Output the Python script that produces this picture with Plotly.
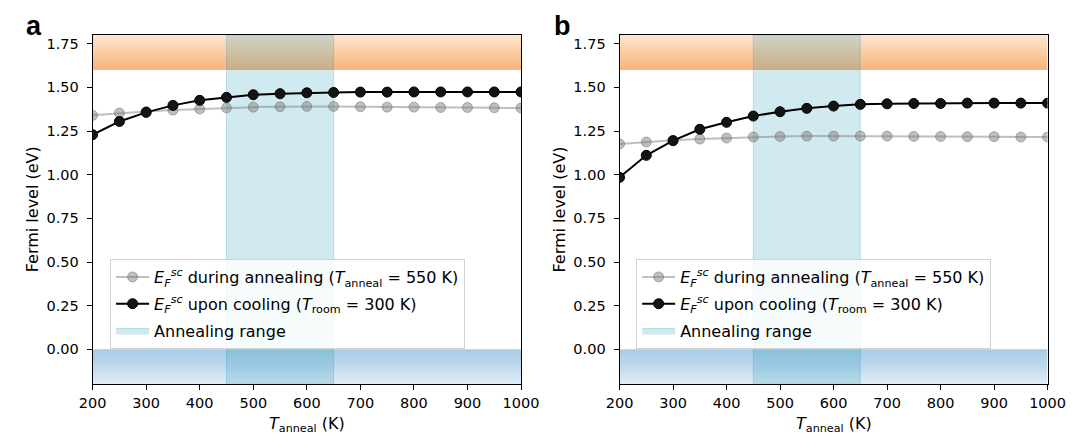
import plotly.graph_objects as go

# Annealing temperatures (K)
temps = [200, 250, 300, 350, 400, 450, 500, 550, 600, 650, 700, 750, 800, 850, 900, 950, 1000]

# Panel a: self-consistent Fermi level (eV)
a_anneal = [1.340, 1.353, 1.362, 1.370, 1.376, 1.383, 1.387, 1.389, 1.391, 1.391,
            1.389, 1.387, 1.387, 1.385, 1.385, 1.383, 1.382]
a_cool = [1.229, 1.305, 1.357, 1.397, 1.426, 1.443, 1.458, 1.464, 1.469, 1.471,
          1.473, 1.473, 1.474, 1.474, 1.474, 1.474, 1.474]

# Panel b: self-consistent Fermi level (eV)
b_anneal = [1.176, 1.187, 1.197, 1.204, 1.210, 1.216, 1.219, 1.221, 1.221, 1.221,
            1.221, 1.219, 1.219, 1.218, 1.218, 1.216, 1.216]
b_cool = [0.985, 1.111, 1.195, 1.260, 1.300, 1.336, 1.361, 1.380, 1.393, 1.403,
          1.406, 1.408, 1.408, 1.410, 1.410, 1.410, 1.410]

# Band edges shown as shaded regions (eV) and annealing window (K)
cb_region = [1.6, 1.8]
vb_region = [-0.2, 0.0]
anneal_window = [450, 650]
x_limits = [200, 1000]
y_ticks = [0.0, 0.25, 0.5, 0.75, 1.0, 1.25, 1.5, 1.75]

FONT = "DejaVu Sans"
FS = 16
TICK_FS = 14.5
anneal_name = ("<i>E</i><sub><i>F</i></sub><sup><i>sc</i></sup> during annealing "
               "(<i>T</i><sub>anneal</sub> = 550 K)")
cool_name = ("<i>E</i><sub><i>F</i></sub><sup><i>sc</i></sup> upon cooling "
             "(<i>T</i><sub>room</sub> = 300 K)")

fig = go.Figure()


def add_panel(xa, ya, legend, anneal, cool):
    x0, x1 = x_limits
    # conduction band region (orange gradient)
    fig.add_trace(go.Scatter(
        x=[x0, x1, x1, x0, x0], y=[cb_region[0], cb_region[0], cb_region[1], cb_region[1], cb_region[0]],
        xaxis=xa, yaxis=ya, mode="lines", line=dict(width=0), fill="toself",
        fillgradient=dict(type="vertical",
                          colorscale=[[0, "rgb(249,180,122)"], [1, "rgb(252,230,206)"]]),
        showlegend=False, hoverinfo="skip"))
    # valence band region (blue gradient)
    fig.add_trace(go.Scatter(
        x=[x0, x1, x1, x0, x0], y=[vb_region[0], vb_region[0], vb_region[1], vb_region[1], vb_region[0]],
        xaxis=xa, yaxis=ya, mode="lines", line=dict(width=0), fill="toself",
        fillgradient=dict(type="vertical",
                          colorscale=[[0, "rgb(227,237,247)"], [0.6, "rgb(186,214,236)"],
                                      [1, "rgb(168,204,230)"]]),
        showlegend=False, hoverinfo="skip"))
    # annealing window
    w0, w1 = anneal_window
    fig.add_trace(go.Scatter(
        x=[w0, w1, w1, w0, w0], y=[-0.2, -0.2, 1.8, 1.8, -0.2],
        xaxis=xa, yaxis=ya, mode="lines", fill="toself",
        fillcolor="rgba(0,140,172,0.18)", line=dict(color="rgba(0,140,172,0.22)", width=1),
        name="Annealing range", legend=legend, legendgroup=legend + "c", legendrank=3,
        hoverinfo="skip"))
    fig.add_trace(go.Scatter(
        x=temps, y=anneal, xaxis=xa, yaxis=ya, mode="lines+markers",
        line=dict(color="rgba(128,128,128,0.5)", width=2),
        marker=dict(size=10, color="rgba(128,128,128,0.5)",
                    line=dict(color="rgba(110,110,110,0.5)", width=1)),
        name=anneal_name, legend=legend, legendgroup=legend + "a", legendrank=1))
    fig.add_trace(go.Scatter(
        x=temps, y=cool, xaxis=xa, yaxis=ya, mode="lines+markers",
        line=dict(color="black", width=2),
        marker=dict(size=10, color="rgb(20,20,20)", line=dict(color="black", width=1)),
        name=cool_name, legend=legend, legendgroup=legend + "b", legendrank=2))


add_panel("x", "y", "legend", a_anneal, a_cool)
add_panel("x2", "y2", "legend2", b_anneal, b_cool)

W, H = 1088, 438
dom_y = [1 - 384.3 / H, 1 - 35.0 / H]
dom_a = [81.0 / W, 522.4 / W]
dom_b = [623.9 / W, 1064.9 / W]

axis_common = dict(showline=True, mirror=True, linecolor="black", linewidth=1,
                   ticks="outside", ticklen=5, tickwidth=1, tickcolor="black",
                   showgrid=False, zeroline=False,
                   tickfont=dict(family=FONT, size=TICK_FS, color="black"))
xcommon = dict(axis_common, range=x_limits, tickmode="array",
               tickvals=list(range(200, 1001, 100)))
ycommon = dict(axis_common, range=[-0.2, 1.8], tickmode="array", tickvals=y_ticks,
               ticktext=[f"{v:.2f}" for v in y_ticks], ticklabelstandoff=5)

legend_common = dict(font=dict(family=FONT, size=FS, color="black"),
                     bgcolor="rgba(255,255,255,0.8)", bordercolor="rgb(210,210,210)",
                     borderwidth=1, xanchor="left", yanchor="top",
                     tracegroupgap=3, itemwidth=33, traceorder="grouped")

fig.update_layout(
    width=W, height=H, margin=dict(l=0, r=0, t=0, b=0),
    paper_bgcolor="white", plot_bgcolor="white",
    font=dict(family=FONT, size=FS, color="black"),
    xaxis=dict(xcommon, domain=dom_a, anchor="y"),
    yaxis=dict(ycommon, domain=dom_y, anchor="x"),
    xaxis2=dict(xcommon, domain=dom_b, anchor="y2"),
    yaxis2=dict(ycommon, domain=dom_y, anchor="x2"),
    legend=dict(legend_common, x=99 / W, y=1 - 259 / H),
    legend2=dict(legend_common, x=641 / W, y=1 - 259 / H),
)

# axis titles and panel letters
ann = []
for d, letter, letter_x in ((dom_a, "a", 10), (dom_b, "b", 554)):
    ann.append(dict(text="<i>T</i><sub>anneal</sub> (K)", xref="paper", yref="paper",
                    x=(d[0] + d[1]) / 2, y=1 - 424 / H, xanchor="center", yanchor="middle",
                    showarrow=False, font=dict(family=FONT, size=FS, color="black")))
    ann.append(dict(text="<b>" + letter + "</b>", xref="paper",
                    yref="paper", x=letter_x / W, y=1 - 26 / H, xanchor="left",
                    yanchor="middle", showarrow=False,
                    font=dict(family="Liberation Sans", size=27, color="black")))
for yx in (18.8, 562):
    ann.append(dict(text="Fermi level (eV)", xref="paper", yref="paper", x=yx / W,
                    y=1 - 209 / H, textangle=-90, xanchor="center", yanchor="middle",
                    showarrow=False, font=dict(family=FONT, size=FS, color="black")))
fig.update_layout(annotations=ann)

fig.write_html("out.html")
